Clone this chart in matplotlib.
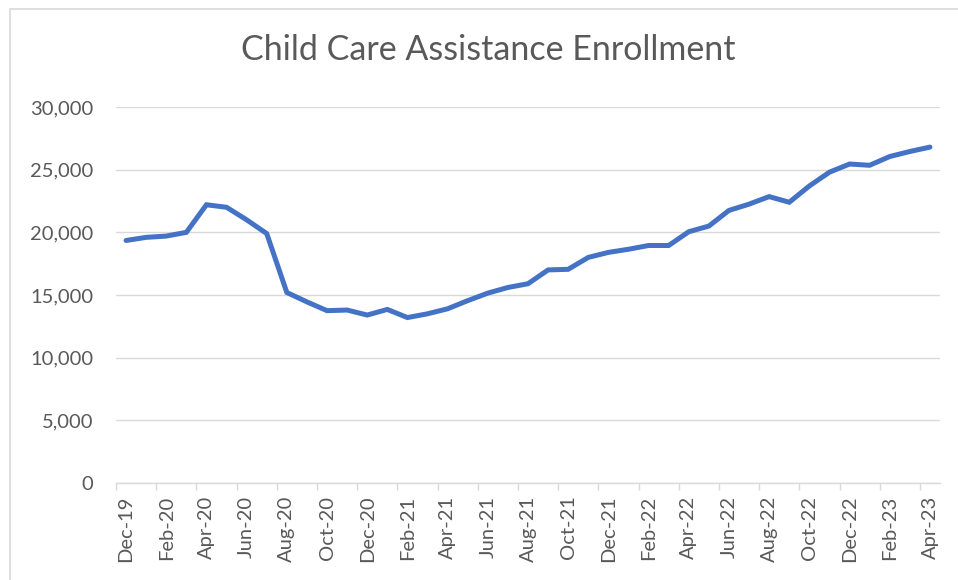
import matplotlib.pyplot as plt
import matplotlib.patches as mpatches
from matplotlib.ticker import FuncFormatter

# Dados (matrículas mensais)
meses = ['Dec-19', 'Jan-20', 'Feb-20', 'Mar-20', 'Apr-20', 'May-20', 'Jun-20', 'Jul-20',
         'Aug-20', 'Sep-20', 'Oct-20', 'Nov-20', 'Dec-20', 'Jan-21', 'Feb-21', 'Mar-21',
         'Apr-21', 'May-21', 'Jun-21', 'Jul-21', 'Aug-21', 'Sep-21', 'Oct-21', 'Nov-21',
         'Dec-21', 'Jan-22', 'Feb-22', 'Mar-22', 'Apr-22', 'May-22', 'Jun-22', 'Jul-22',
         'Aug-22', 'Sep-22', 'Oct-22', 'Nov-22', 'Dec-22', 'Jan-23', 'Feb-23', 'Mar-23',
         'Apr-23']
matriculas = [19350, 19600, 19700, 20000, 22200, 22000, 21000, 19900,
              15200, 14450, 13750, 13800, 13400, 13850, 13200, 13500,
              13900, 14550, 15150, 15600, 15900, 17000, 17050, 18000,
              18400, 18650, 18950, 18950, 20050, 20500, 21750, 22250,
              22850, 22400, 23700, 24800, 25450, 25350, 26050, 26450,
              26800]
y_ticks = [0, 5000, 10000, 15000, 20000, 25000, 30000]

cinza = '#595959'
grade = '#D9D9D9'
plt.rcParams['font.family'] = ['Lato', 'DejaVu Sans']

fig = plt.figure(figsize=(9.58, 5.8), dpi=100)
ax = fig.add_axes([116/958, 1 - 483/580, (940 - 116)/958, (483 - 107)/580])

# Borda do gráfico (estilo Excel)
fig.patches.append(mpatches.Rectangle((9.5/958, -0.2), 1.2, 1.2 - 8.5/580,
                                      transform=fig.transFigure, fill=False,
                                      edgecolor=grade, linewidth=1.2))

x = list(range(len(meses)))
ax.plot(x, matriculas, color='#4472C4', linewidth=3.6, solid_capstyle='round',
        solid_joinstyle='miter', zorder=3)

ax.set_xlim(-0.5, len(meses) - 0.5)
ax.set_ylim(0, 30000)
ax.set_yticks(y_ticks)
ax.yaxis.set_major_formatter(FuncFormatter(lambda v, p: f'{int(v):,}'))
ax.grid(axis='y', color=grade, linewidth=1.0)
ax.set_axisbelow(True)

# Rótulos a cada 2 meses, marcas entre categorias
ax.set_xticks(x[::2])
ax.set_xticklabels(meses[::2], rotation=90)
ax.set_xticks([i - 0.5 for i in range(0, len(meses) + 1, 2)], minor=True)
ax.tick_params(axis='x', which='major', length=0, pad=9, labelsize=14.5, colors=cinza)
ax.tick_params(axis='x', which='minor', length=5, color=grade, width=1.0)
ax.tick_params(axis='y', length=0, pad=16.5, labelsize=14.5, colors=cinza)

for lado in ['top', 'right', 'left']:
    ax.spines[lado].set_visible(False)
ax.spines['bottom'].set_color(grade)
ax.spines['bottom'].set_linewidth(1.0)

fig.text(488/958, 1 - 50/580, 'Child Care Assistance Enrollment', ha='center', va='center',
         fontsize=24.5, color=cinza)

fig.savefig('out.png', dpi=100)
